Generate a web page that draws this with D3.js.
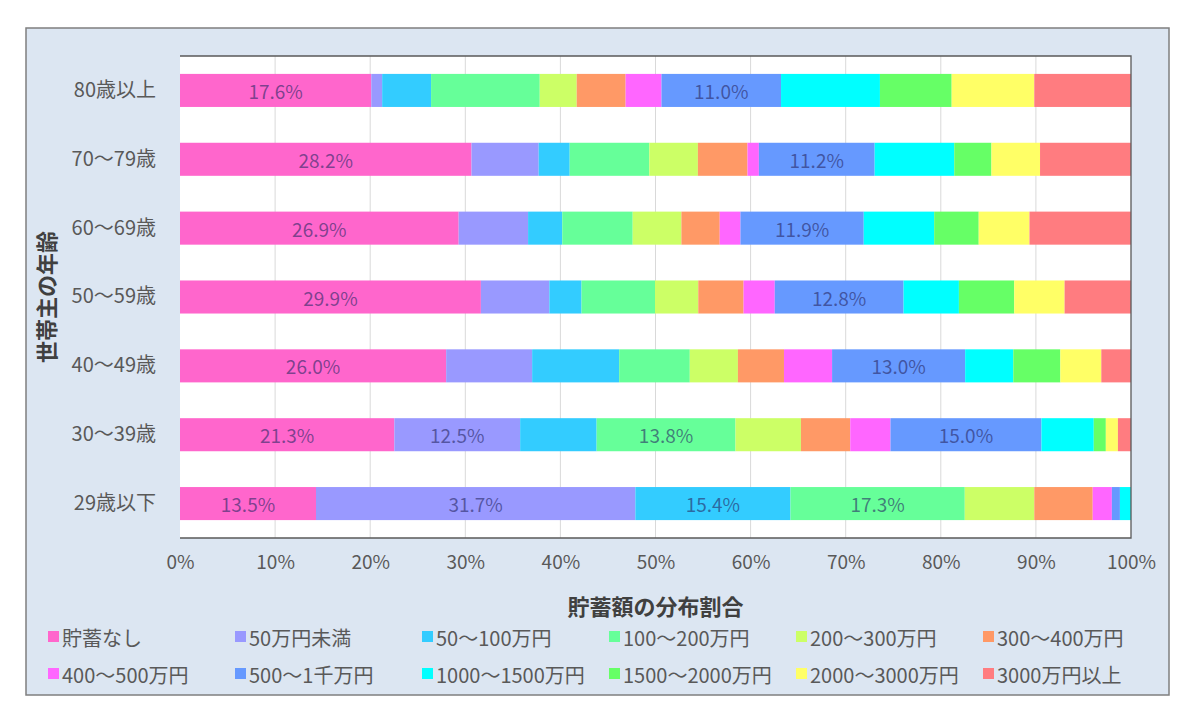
<!DOCTYPE html>
<html>
<head>
<meta charset="utf-8">
<script src="https://cdn.jsdelivr.net/npm/d3@7"></script>
<style>
  body { margin: 0; background: #fff; }
  svg text { font-family: "Noto Sans CJK JP", "Noto Sans", sans-serif; }
</style>
</head>
<body>
<div id="chart"></div>
<script>
// age groups, top to bottom
const ages = ["80歳以上", "70～79歳", "60～69歳", "50～59歳", "40～49歳", "30～39歳", "29歳以下"];

const seriesNames = ["貯蓄なし", "50万円未満", "50～100万円", "100～200万円", "200～300万円", "300～400万円",
  "400～500万円", "500～1千万円", "1000～1500万円", "1500～2000万円", "2000～3000万円", "3000万円以上"];

const seriesColors = ["#ff66cc", "#9999ff", "#33ccff", "#66ff99", "#ccff66", "#ff9966",
  "#ff66ff", "#6699ff", "#00ffff", "#66ff66", "#ffff66", "#ff7c80"];

// raw survey values (%) per age group, same order as seriesNames (no-answer share not shown)
const v80 = [17.6, 1.0, 4.5, 10.0, 3.4, 4.5, 3.3, 11.0, 9.1, 6.6, 7.6, 8.9];
const v70 = [28.2, 6.5, 3.0, 7.7, 4.7, 4.8, 1.1, 11.2, 7.7, 3.6, 4.7, 8.8];
const v60 = [26.9, 6.7, 3.3, 6.8, 4.7, 3.7, 2.0, 11.9, 6.8, 4.3, 4.9, 9.8];
const v50 = [29.9, 6.8, 3.2, 7.3, 4.3, 4.5, 3.1, 12.8, 5.5, 5.5, 5.0, 6.6];
const v40 = [26.0, 8.4, 8.5, 6.9, 4.7, 4.5, 4.7, 13.0, 4.7, 4.6, 4.0, 2.9];
const v30 = [21.3, 12.5, 7.6, 13.8, 6.5, 4.9, 4.0, 15.0, 5.2, 1.2, 1.2, 1.3];
const v20 = [13.5, 31.7, 15.4, 17.3, 6.9, 5.8, 1.9, 0.8, 1.1, 0, 0, 0];
const rowValues = [v80, v70, v60, v50, v40, v30, v20];

const xTicks = [0, 0.1, 0.2, 0.3, 0.4, 0.5, 0.6, 0.7, 0.8, 0.9, 1.0];
const labelMin = 11; // only the larger segments get a data label

const W = 1200, H = 726;
const plot = {left: 180, right: 1131, top: 56, bottom: 538};

const svg = d3.select("#chart").append("svg")
  .attr("width", W).attr("height", H);

// outer chart frame
svg.append("rect")
  .attr("x", 26).attr("y", 28).attr("width", 1143).attr("height", 667)
  .attr("fill", "#dce6f2").attr("stroke", "#7f7f7f").attr("stroke-width", 1.5);

// plot area
svg.append("rect")
  .attr("x", plot.left).attr("y", plot.top)
  .attr("width", plot.right - plot.left).attr("height", plot.bottom - plot.top)
  .attr("fill", "#fff");

var x = d3.scaleLinear().domain([0, 1]).range([plot.left, plot.right]);
var y = d3.scaleBand().domain(ages).range([plot.top, plot.bottom])
  .paddingInner(0.52).paddingOuter(0.26);

// gridlines
svg.append("g")
  .selectAll("line")
  .data(xTicks.slice(1, -1))
  .enter().append("line")
  .attr("x1", d => x(d)).attr("x2", d => x(d))
  .attr("y1", plot.top).attr("y2", plot.bottom)
  .attr("stroke", "#d9d9d9").attr("stroke-width", 1);

// build 100% stacked rows
const rows = ages.map((a, i) => {
  const vals = rowValues[i];
  const total = d3.sum(vals);
  let acc = 0;
  return vals.map((v, k) => {
    const seg = {age: a, k: k, value: v, x0: acc / total, x1: (acc + v) / total};
    acc += v;
    return seg;
  });
});
const segs = rows.flat().filter(d => d.value > 0);

svg.append("g")
  .selectAll("rect")
  .data(segs)
  .enter().append("rect")
  .attr("x", d => x(d.x0))
  .attr("y", d => y(d.age))
  .attr("width", d => x(d.x1) - x(d.x0))
  .attr("height", y.bandwidth())
  .attr("fill", d => seriesColors[d.k]);

// data labels
svg.append("g")
  .selectAll("text")
  .data(segs.filter(d => d.value >= labelMin))
  .enter().append("text")
  .attr("x", d => x((d.x0 + d.x1) / 2))
  .attr("y", d => y(d.age) + y.bandwidth() / 2)
  .attr("text-anchor", "middle")
  .attr("dominant-baseline", "central")
  .attr("font-size", 19)
  .attr("fill", "rgba(40,40,100,0.6)")
  .text(d => d.value.toFixed(1) + "%");

// plot border: top, right, bottom
svg.append("path")
  .attr("d", `M${plot.left},${plot.top}H${plot.right}V${plot.bottom}H${plot.left}`)
  .attr("fill", "none").attr("stroke", "#595959").attr("stroke-width", 1.3);

// x axis
const xAxis = svg.append("g")
  .attr("transform", `translate(0,${plot.bottom})`)
  .call(d3.axisBottom(x).tickValues(xTicks).tickFormat(d3.format(".0%")).tickSize(0).tickPadding(18));
xAxis.select(".domain").remove();
xAxis.selectAll("text").attr("font-size", 19).attr("fill", "#595959")
  .style("font-family", "'Noto Sans CJK JP', sans-serif");

// y axis
const yAxis = svg.append("g")
  .attr("transform", `translate(${plot.left},0)`)
  .call(d3.axisLeft(y).tickSize(0).tickPadding(24));
yAxis.select(".domain").remove();
yAxis.selectAll("text").attr("font-size", 20).attr("fill", "#595959")
  .style("font-family", "'Noto Sans CJK JP', sans-serif");

// axis titles
svg.append("text")
  .attr("x", (plot.left + plot.right) / 2).attr("y", 605)
  .attr("text-anchor", "middle").attr("dominant-baseline", "central")
  .attr("font-size", 22).attr("font-weight", "bold").attr("fill", "#404040")
  .text("貯蓄額の分布割合");

svg.append("text")
  .attr("transform", `translate(45,${(plot.top + plot.bottom) / 2}) rotate(-90)`)
  .attr("text-anchor", "middle").attr("dominant-baseline", "central")
  .attr("font-size", 22).attr("font-weight", "bold").attr("fill", "#404040")
  .text("世帯主の年齢");

// legend, 6 columns x 2 rows
const legend = svg.append("g")
  .selectAll("g")
  .data(seriesNames)
  .enter().append("g")
  .attr("transform", (d, i) => `translate(${48 + (i % 6) * 187},${i < 6 ? 637 : 674})`);
legend.append("rect")
  .attr("x", 0).attr("y", -6).attr("width", 11).attr("height", 11)
  .attr("fill", (d, i) => seriesColors[i]);
legend.append("text")
  .attr("x", 14).attr("y", 0)
  .attr("dominant-baseline", "central")
  .attr("font-size", 20).attr("fill", "#595959")
  .text(d => d);
</script>
</body>
</html>
